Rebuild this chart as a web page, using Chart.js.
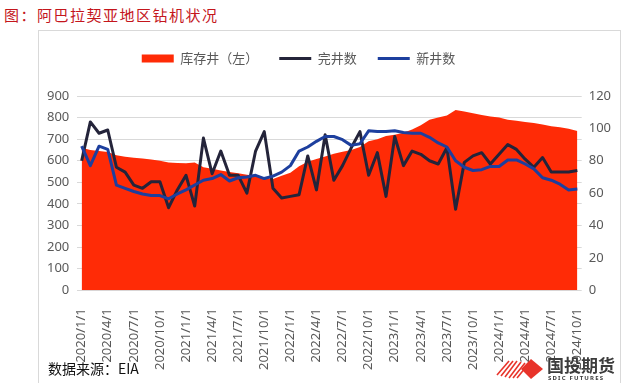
<!DOCTYPE html>
<html>
<head>
<meta charset="utf-8">
<script src="https://cdn.jsdelivr.net/npm/chart.js@4.4.1/dist/chart.umd.min.js"></script>
<style>
  body { margin: 0; width: 625px; height: 383px; background: #fff; position: relative; overflow: hidden;
         font-family: "Noto Sans CJK SC", "Noto Sans", sans-serif; }
  #title { position: absolute; left: 4px; top: 4px; font-size: 15px; color: #c4161c; letter-spacing: 1.5px; }
  #box { position: absolute; left: 38px; top: 30px; width: 581px; height: 352px; border: 1px solid #d9d9d9; }
  #src { position: absolute; left: 48px; top: 358px; font-size: 14px; color: #111; }
  #logo { position: absolute; left: 495px; top: 351px; width: 125px; height: 32px; }
</style>
</head>
<body>
<div id="title">图：阿巴拉契亚地区钻机状况</div>
<div id="box"><canvas id="c" width="581" height="352"></canvas></div>
<div id="src">数据来源：EIA</div>
<div id="logo">
  <svg width="125" height="32" viewBox="0 0 125 32">
    <g stroke="#e8332a" stroke-width="1.6">
      <line x1="2" y1="24" x2="14" y2="10"/><line x1="6" y1="25" x2="18" y2="10"/>
      <line x1="10" y1="26" x2="22" y2="10"/><line x1="14" y1="27" x2="26" y2="11"/>
      <line x1="18" y1="27" x2="30" y2="12"/><line x1="22" y1="27" x2="31" y2="16"/>
    </g>
    <polygon points="36,8 48,18 36,28 26,18" fill="#e8332a"/>
    <text x="52" y="21" font-size="17" font-weight="bold" fill="#3c3c3c" font-family="Noto Sans CJK SC">国投期货</text>
    <text x="53" y="29" font-size="6" font-weight="bold" fill="#3c3c3c" font-family="Noto Sans" letter-spacing="1.2">SDIC FUTURES</text>
  </svg>
</div>
<script>
// 月度标签 2020/1/1 ~ 2024/10/1
const months = [];
for (let y = 2020; y <= 2024; y++) {
  for (let m = 1; m <= 12; m++) {
    if (y === 2024 && m > 10) break;
    months.push(y + '/' + m + '/1');
  }
}

// 库存井（左轴）
const stockWells = [
  660, 650, 645, 640, 625, 618, 614, 610, 606, 600, 592, 590,
  589, 592, 570, 563, 555, 548, 542, 535, 530, 522, 516, 530,
  545, 575, 595, 608, 620, 633, 642, 650, 664, 690, 700, 715,
  720, 730, 745, 765, 790, 800, 810, 835, 828, 820, 812, 805,
  800, 790, 785, 780, 775, 768, 760, 755, 748, 738
];

// 完井数（右轴）
const completedWells = [
  80, 104, 97, 99, 76, 73, 65, 63, 67, 67, 51, 62,
  71, 52, 94, 72, 86, 71, 71, 60, 86, 98, 63, 57,
  58, 59, 83, 62, 96, 68, 77, 88, 98, 71, 85, 58,
  95, 77, 86, 84, 80, 78, 88, 50, 79, 83, 85, 78,
  84, 90, 87, 81, 76, 82, 73, 73, 73, 74
];

// 新井数（右轴）
const newWells = [
  89, 77, 89, 87, 65, 63, 61, 59.5, 58.5, 58.5, 56.5, 59.5,
  62, 65, 68, 69, 71.5, 67.5, 69.5, 70, 71, 69, 70.5, 73,
  77, 86, 88.5, 92, 95, 95, 93, 89.5, 90.5, 98.5, 98, 98,
  98.5, 97.5, 97, 97, 94.5, 91, 88.5, 80, 76, 74, 74.5, 76.5,
  76.5, 80.5, 80.5, 78, 75, 69.5, 68, 65.5, 62, 62.5
];

const axisColor = '#595959';

// 图例往上、往左挪一点，和原图位置对齐
const legendMove = {
  id: 'legendMove',
  afterLayout(chart) {
    const lg = chart.legend;
    lg.top -= 21;
    lg.bottom -= 21;
    lg.left -= 30;
    lg.right -= 30;
  }
};

new Chart(document.getElementById('c'), {
  type: 'line',
  data: {
    labels: months,
    datasets: [
      {
        label: '库存井（左）',
        data: stockWells,
        yAxisID: 'y',
        fill: 'origin',
        backgroundColor: '#ff2b06',
        borderWidth: 0,
        pointRadius: 0,
        pointStyle: 'rect',
        pointBackgroundColor: '#ff2b06',
        pointBorderWidth: 0,
        order: 2
      },
      {
        label: '完井数',
        data: completedWells,
        yAxisID: 'y1',
        borderColor: '#24243a',
        borderWidth: 3,
        borderJoinStyle: 'round',
        tension: 0,
        pointRadius: 0,
        pointStyle: 'line',
        pointBorderColor: '#24243a',
        pointBorderWidth: 3,
        order: 1
      },
      {
        label: '新井数',
        data: newWells,
        yAxisID: 'y1',
        borderColor: '#1d3f9e',
        borderWidth: 3,
        borderJoinStyle: 'round',
        tension: 0,
        pointRadius: 0,
        pointStyle: 'line',
        pointBorderColor: '#1d3f9e',
        pointBorderWidth: 3,
        order: 0
      }
    ]
  },
  options: {
    responsive: false,
    animation: false,
    layout: { padding: { left: 0, right: 2, top: 21, bottom: 3 } },
    plugins: {
      legend: {
        position: 'top',
        labels: {
          usePointStyle: true,
          pointStyleWidth: 32,
          boxHeight: 8,
          padding: 21,
          color: axisColor,
          font: { size: 13, family: '"Noto Sans CJK SC", sans-serif' },
          sort: (a, b) => a.datasetIndex - b.datasetIndex
        }
      },
      tooltip: { enabled: false }
    },
    scales: {
      x: {
        offset: true,
        grid: { display: false },
        border: { display: false },
        ticks: {
          autoSkip: false,
          minRotation: 90,
          maxRotation: 90,
          padding: 10,
          color: axisColor,
          font: { size: 13, family: '"Noto Sans", sans-serif' },
          callback: (v, i) => (i % 3 === 0 ? months[i] : '')
        }
      },
      y: {
        position: 'left',
        min: 0,
        max: 900,
        grid: { color: '#d9d9d9', drawTicks: false },
        border: { display: false },
        ticks: {
          stepSize: 100,
          padding: 8,
          color: axisColor,
          font: { size: 13, family: '"Noto Sans", sans-serif' }
        }
      },
      y1: {
        position: 'right',
        min: 0,
        max: 120,
        grid: { display: false, drawTicks: false },
        border: { display: false },
        ticks: {
          stepSize: 20,
          padding: 7,
          color: axisColor,
          font: { size: 13, family: '"Noto Sans", sans-serif' }
        }
      }
    }
  },
  plugins: [legendMove]
});
</script>
</body>
</html>
